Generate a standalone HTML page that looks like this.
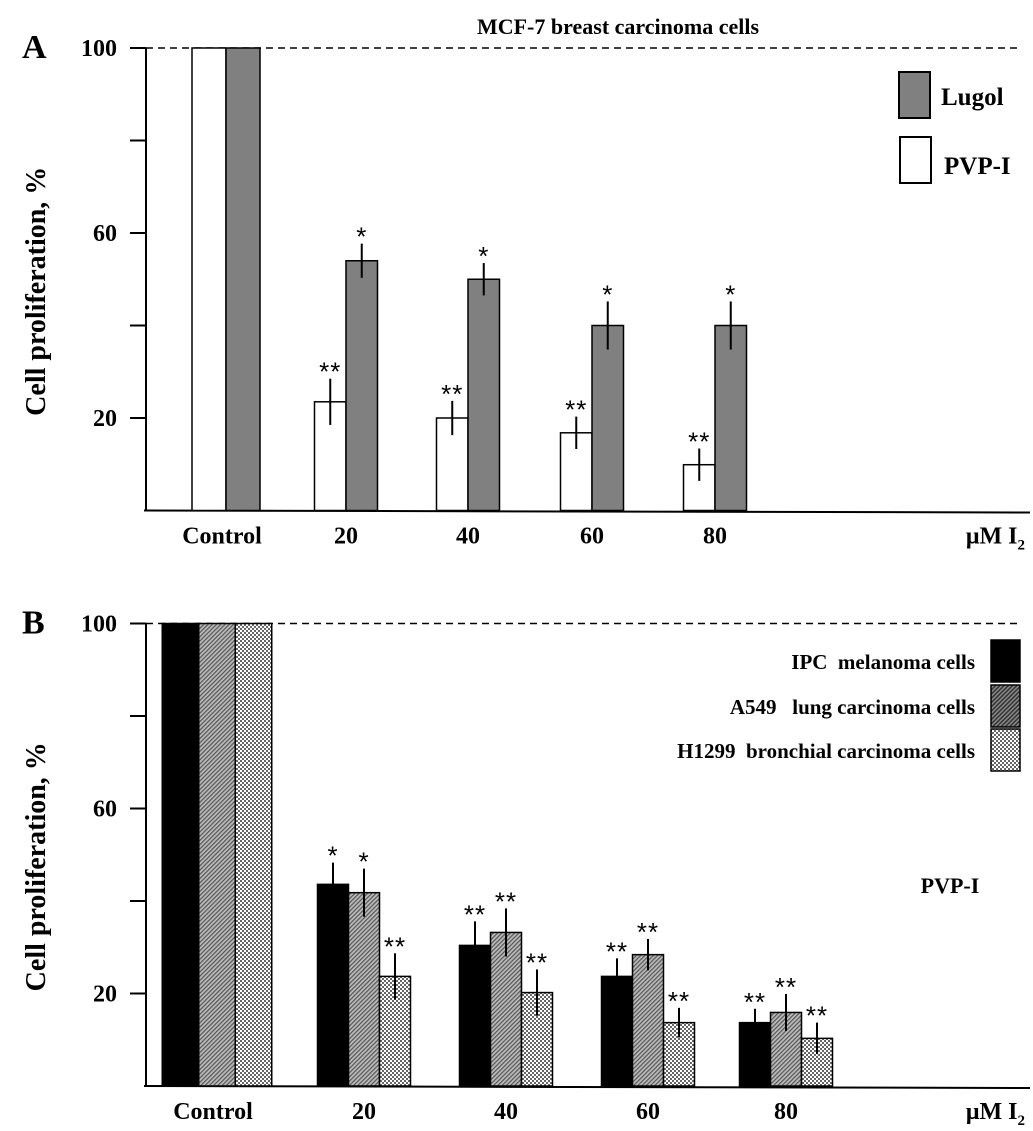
<!DOCTYPE html>
<html><head><meta charset="utf-8"><style>
html,body{margin:0;padding:0;background:#fff}
svg{display:block;font-family:"Liberation Serif",serif;font-weight:bold}
</style></head><body>
<svg id="c" width="1033" height="1131" viewBox="0 0 1033 1131">
<defs>
<pattern id="hatch" width="3" height="3" patternUnits="userSpaceOnUse" patternTransform="rotate(45)">
<rect width="3" height="3" fill="#bbb"/><rect width="1.2" height="3" fill="#555"/></pattern>
<pattern id="hatchD" width="3" height="3" patternUnits="userSpaceOnUse" patternTransform="rotate(45)">
<rect width="3" height="3" fill="#888"/><rect width="1.5" height="3" fill="#333"/></pattern>
<pattern id="check" width="4" height="4" patternUnits="userSpaceOnUse">
<rect width="4" height="4" fill="#fff"/><rect width="2" height="2" fill="#666"/><rect x="2" y="2" width="2" height="2" fill="#666"/></pattern>
</defs>
<g id="gA"></g>
<g id="gB"></g>
</svg>
<script>
const categories=["Control","20","40","60","80"];
const yTicks=[20,60,100];
const aPVP=[100,23.5,20,16.8,9.9];
const aPVPerr=[0,5,3.7,3.5,3.5];
const aPVPstar=["","**","**","**","**"];
const aLugol=[100,54,50,40,40];
const aLugolErr=[0,3.7,3.5,5.2,5.2];
const aLugolStar=["","*","*","*","*"];
const bIPC=[100,43.6,30.4,23.7,13.7];
const bIPCerr=[0,4.7,5.2,3.9,3];
const bIPCstar=["","*","**","**","**"];
const bA549=[100,41.8,33.2,28.4,15.9];
const bA549err=[0,5.2,5.2,3.4,4];
const bA549star=["","*","**","**","**"];
const bH1299=[100,23.7,20.2,13.7,10.3];
const bH1299err=[0,5,5,3.2,3.4];
const bH1299star=["","**","**","**","**"];

const NS="http://www.w3.org/2000/svg";
function mk(p,t,a,txt){const e=document.createElementNS(NS,t);for(const k in a)e.setAttribute(k,a[k]);if(txt!==undefined)e.textContent=txt;p.appendChild(e);return e;}

function panel(g,cfg){
  const y=v=>cfg.y0-v*4.625;
  const x=i=>cfg.centers[i];
  let e=mk(g,'line',{x1:146,y1:y(100),x2:146,y2:cfg.y0,stroke:'#000','stroke-width':2});
  
  e=mk(g,'line',{x1:144,y1:cfg.y0,x2:1030,y2:cfg.y0+2,stroke:'#000','stroke-width':2});
  
  e=mk(g,'line',{x1:146,y1:y(100),x2:1022,y2:y(100),stroke:'#000','stroke-width':1.6,'stroke-dasharray':'7,5'});
  
  for(let v=20;v<=100;v+=20){
    e=mk(g,'line',{x1:130,y1:y(v),x2:146,y2:y(v),stroke:'#000','stroke-width':2});
    
  }
  yTicks.forEach(v=>{
    e=mk(g,'text',{x:117,y:y(v)+8,'text-anchor':'end','font-size':24},String(v));
    
  });
  categories.forEach((c,i)=>{
    e=mk(g,'text',{x:x(i)-(i===0?4:0),y:cfg.y0+33,'text-anchor':'middle','font-size':24},c);
    
  });
  const lab=mk(g,'text',{x:1025,y:cfg.y0+33,'text-anchor':'end','font-size':24});
  
  lab.innerHTML='μM I<tspan font-size="15" dy="6">2</tspan>';
  e=mk(g,'text',{x:0,y:0,'text-anchor':'middle','font-size':28,transform:`translate(45,${(y(100)+cfg.y0)/2+12}) rotate(-90)`},'Cell proliferation, %');
  
  e=mk(g,'text',{x:22,y:y(100)+10,'font-size':34},cfg.letter);
  
  const n=cfg.series.length;
  cfg.series.forEach((s,si)=>{
    s.vals.forEach((v,i)=>{
      const w=i===0?cfg.w0:cfg.w;
      const bx=x(i)-n*w/2+si*w;
      e=mk(g,'rect',{x:bx,y:y(v),width:w,height:cfg.y0-y(v),fill:s.fill,stroke:'#000','stroke-width':1.5});
      
      const er=s.err[i];
      if(er>0){
        e=mk(g,'line',{x1:bx+w/2,x2:bx+w/2,y1:y(v+er),y2:y(v-er),stroke:'#000','stroke-width':2});
        
      }
      if(s.star[i]){
        e=mk(g,'text',{x:bx+w/2,y:y(v+er)+2,'text-anchor':'middle','font-size':26,'font-weight':'normal','font-family':'Liberation Sans','letter-spacing':'1'},s.star[i]);
        
      }
    });
  });
}
const gA=document.getElementById('gA'),gB=document.getElementById('gB');
panel(gA,{y0:510.5,letter:'A',w:31.5,w0:34,centers:[226,346,468,592,715],
  series:[{name:'pvp-i',vals:aPVP,err:aPVPerr,star:aPVPstar,fill:'#fff'},
          {name:'lugol',vals:aLugol,err:aLugolErr,star:aLugolStar,fill:'#808080'}]});
panel(gB,{y0:1086,letter:'B',w:31,w0:36.5,centers:[217,364,506,648,786],
  series:[{name:'ipc',vals:bIPC,err:bIPCerr,star:bIPCstar,fill:'#000'},
          {name:'a549',vals:bA549,err:bA549err,star:bA549star,fill:'url(#hatch)'},
          {name:'h1299',vals:bH1299,err:bH1299err,star:bH1299star,fill:'url(#check)'}]});
let e;
e=mk(gA,'text',{x:618,y:34,'text-anchor':'middle','font-size':22},'MCF-7 breast carcinoma cells');

e=mk(gA,'rect',{x:899,y:72,width:31,height:46,fill:'#808080',stroke:'#000','stroke-width':2});

e=mk(gA,'text',{x:941,y:105,'font-size':25},'Lugol');

e=mk(gA,'rect',{x:900,y:137,width:31,height:46,fill:'#fff',stroke:'#000','stroke-width':2});

e=mk(gA,'text',{x:944,y:174,'font-size':25},'PVP-I');

const legB=[['IPC  melanoma cells','#000',640,'ipc'],['A549   lung carcinoma cells','url(#hatchD)',685,'a549'],['H1299  bronchial carcinoma cells','url(#check)',729,'h1299']];
legB.forEach(l=>{
  e=mk(gB,'rect',{x:991,y:l[2],width:29,height:42,fill:l[1],stroke:'#000','stroke-width':1.5});
  
  e=mk(gB,'text',{x:975,y:l[2]+29,'text-anchor':'end','font-size':21},l[0]);
  e.style.whiteSpace='pre';
  
});
e=mk(gB,'text',{x:950,y:893,'text-anchor':'middle','font-size':22},'PVP-I');

</script>
</body></html>
